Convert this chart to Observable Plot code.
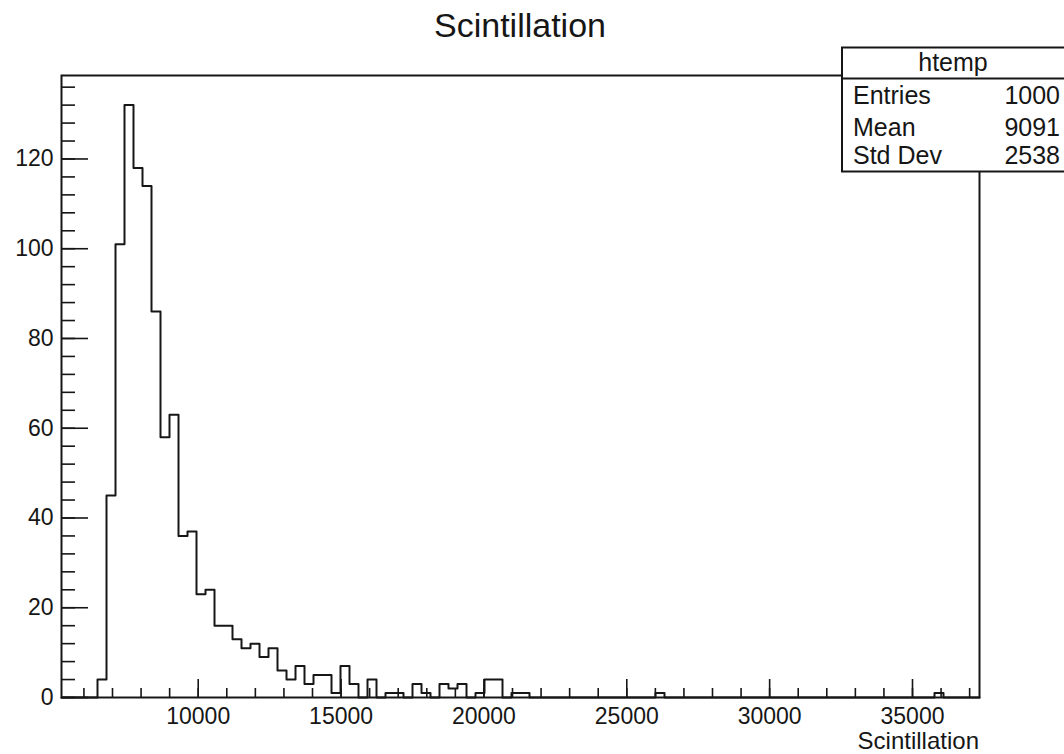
<!DOCTYPE html>
<html><head><meta charset="utf-8">
<script src="https://cdn.jsdelivr.net/npm/d3@7"></script>
<script src="https://cdn.jsdelivr.net/npm/@observablehq/plot@0.6"></script>
<style>
html,body{margin:0;padding:0;background:#fff;overflow:hidden;}
#wrap{position:relative;width:1064px;height:754px;overflow:hidden;font-family:"Liberation Sans",Arial,Helvetica,sans-serif;}
#overlay{position:absolute;left:0;top:0;}
</style></head><body><div id="wrap"></div>
<script>
// ---- data ----
const title = "Scintillation";
const xLabel = "Scintillation";
const histName = "htemp";
const statsLabels = ["Entries", "Mean", "Std Dev"];
const statsValues = ["1000", "9091", "2538"];
const xMin = 5215, binWidth = 315;
const counts = [
  0,0,0,0,
  4,45,101,132,118,114,86,58,63,36,
  37,23,24,16,16,13,11,12,9,11,
  6,4,7,3,5,5,1,7,3,0,
  4,0,1,1,0,3,1,0,3,2,
  3,0,1,4,4,0,1,1,0,0,
  0,0,0,0,0,0,0,0,0,0,
  0,0,1,0,0,0,0,0,0,0,
  0,0,0,0,0,0,0,0,0,0,
  0,0,0,0,0,0,0,0,0,0,
  0,0,0,1,0,0,0,0
];
const xMajorTicks = [10000, 15000, 20000, 25000, 30000, 35000];
const xMinorTicks = d3.range(6000, 38000, 1000);
const yMajorTicks = [0, 20, 40, 60, 80, 100, 120];
const yMinorTicks = d3.range(0, 138, 4);

// ---- derived table ----
const nBins = counts.length;
const xMax = xMin + nBins * binWidth;
const steps = counts.map((c, i) => ({x: xMin + i * binWidth, y: c}));
steps.push({x: xMax, y: 0});
const yMax = d3.max(counts) * 1.05;

const W = 1064, H = 754;
const mL = 61, mR = 85, mT = 75, mB = 57;
const fW = W - mL - mR, fH = H - mT - mB;
const ink = "#161616";
const font = '"Liberation Sans", Arial, Helvetica, sans-serif';

const chart = Plot.plot({
  width: W, height: H,
  marginLeft: mL, marginRight: mR, marginTop: mT, marginBottom: mB,
  style: {fontFamily: font, fontSize: "23px", color: ink, background: "white", overflow: "visible"},
  x: {domain: [xMin, xMax]},
  y: {domain: [0, yMax]},
  marks: [
    Plot.line(steps, {x: "x", y: "y", curve: "step-after", stroke: ink, strokeWidth: 2}),
    Plot.tickX(xMinorTicks, {x: d => d, insetTop: fH - 9, stroke: ink, strokeWidth: 1.6}),
    Plot.tickX(xMajorTicks, {x: d => d, insetTop: fH - 18, stroke: ink, strokeWidth: 1.6}),
    Plot.tickY(yMinorTicks, {y: d => d, insetRight: fW - 14, stroke: ink, strokeWidth: 1.6}),
    Plot.tickY(yMajorTicks, {y: d => d, insetRight: fW - 27, stroke: ink, strokeWidth: 1.6}),
    Plot.axisX(xMajorTicks, {tickSize: 0, tickPadding: 10, label: null, tickFormat: d3.format("d"), fontSize: 23, fill: ink}),
    Plot.axisY(yMajorTicks, {tickSize: 0, tickPadding: 8, label: null, tickFormat: d3.format("d"), fontSize: 23, fill: ink}),
    Plot.frame({stroke: ink, strokeWidth: 2})
  ]
});
const wrap = document.getElementById("wrap");
wrap.appendChild(chart);

// ---- overlay: title, axis title, stats box ----
const ns = "http://www.w3.org/2000/svg";
const ov = document.createElementNS(ns, "svg");
ov.setAttribute("id", "overlay");
ov.setAttribute("width", W); ov.setAttribute("height", H);
ov.style.fontFamily = font;
function el(tag, attrs, text) {
  const e = document.createElementNS(ns, tag);
  for (const k in attrs) e.setAttribute(k, attrs[k]);
  if (text != null) e.textContent = text;
  ov.appendChild(e);
  return e;
}
el("text", {x: mL + fW / 2, y: 37, "text-anchor": "middle", "font-size": 34, fill: ink}, title);
el("text", {x: mL + fW, y: 749, "text-anchor": "end", "font-size": 24, fill: ink}, xLabel);
const bx = 842, by = 47.5, bw = 240, bh = 124;
el("rect", {x: bx, y: by, width: bw, height: bh, fill: "white", stroke: ink, "stroke-width": 2});
el("line", {x1: bx, x2: bx + bw, y1: 78.5, y2: 78.5, stroke: ink, "stroke-width": 2});
el("text", {x: 953, y: 71, "text-anchor": "middle", "font-size": 25, fill: ink}, histName);
const rowY = [104, 135.5, 164];
statsLabels.forEach((s, i) => {
  el("text", {x: 853, y: rowY[i], "font-size": 25, fill: ink}, s);
  el("text", {x: 1060, y: rowY[i], "text-anchor": "end", "font-size": 25, fill: ink}, statsValues[i]);
});
wrap.appendChild(ov);
</script></body></html>
